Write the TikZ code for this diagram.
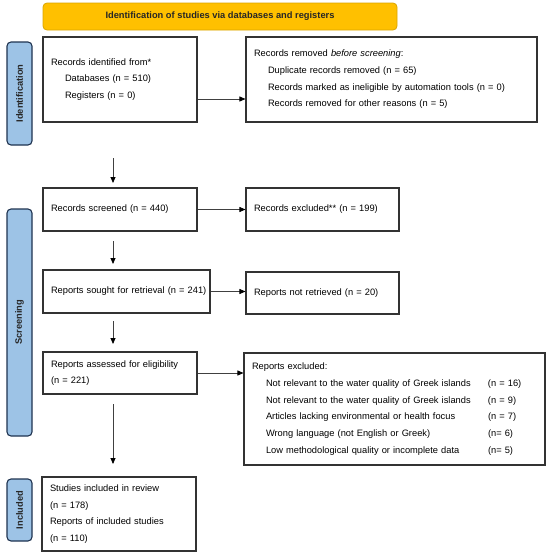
\documentclass[tikz,border=0pt]{standalone}
\usepackage{fontspec}
\setmainfont{Liberation Sans}
\usetikzlibrary{arrows.meta}
\definecolor{hdrfill}{HTML}{FFC000}
\definecolor{hdrdraw}{HTML}{D9A400}
\definecolor{sidefill}{HTML}{9DC3E6}
\definecolor{sidedraw}{HTML}{1F3350}
\definecolor{boxdraw}{HTML}{333333}
\begin{document}
\begin{tikzpicture}[x=1pt,y=-1pt,
  txt/.style={font=\fontsize{9.3}{16.7}\selectfont},
  box/.style={draw=boxdraw, line width=1.1pt, fill=white, align=left, inner xsep=8pt, inner ysep=0pt, txt},
  side/.style={draw=sidedraw, fill=sidefill, rounded corners=4pt, line width=1.1pt, rotate=90,
    font=\bfseries\fontsize{9.3}{11}\selectfont, text=black!85, inner sep=0pt, minimum height=25pt},
  hdr/.style={draw=hdrdraw, fill=hdrfill, rounded corners=4pt, line width=0.8pt,
    font=\bfseries\fontsize{9.3}{11}\selectfont, text=black!85, inner sep=0pt},
  arr/.style={draw=black!75, line width=0.8pt, -{Triangle[length=6pt,width=5pt,color=black,fill=black]}}]
\useasboundingbox (0,0) rectangle (550,555);

% header
\node[hdr, minimum width=354pt, minimum height=27pt] (header) at (220,16.5)
  {Identification of studies via databases and registers};

% side labels
\node[side, minimum width=103pt] (sideid) at (19.5,93.5) {Identification};
\node[side, minimum width=227pt] (sidescr) at (19.5,322.5) {Screening};
\node[side, minimum width=62pt] (sideinc) at (19.5,510) {Included};

% boxes
\node[box, text width=138pt, minimum width=154pt, minimum height=85pt] (ident) at (120,79.5)
  {Records identified from*\\
   \hspace*{14pt}Databases (n = 510)\\
   \hspace*{14pt}Registers (n = 0)};
\node[box, text width=275pt, minimum width=291pt, minimum height=85pt] (removed) at (391.5,79.5)
  {Records removed \textit{before screening}:\\
   \hspace*{14pt}Duplicate records removed (n = 65)\\
   \hspace*{14pt}Records marked as ineligible by automation tools (n = 0)\\
   \hspace*{14pt}Records removed for other reasons (n = 5)};
\node[box, text width=138pt, minimum width=154pt, minimum height=43pt] (screen) at (120,209.5)
  {Records screened (n = 440)};
\node[box, text width=137pt, minimum width=153pt, minimum height=43pt] (excl) at (322.5,209.5)
  {Records excluded** (n = 199)};
\node[box, text width=151pt, minimum width=167pt, minimum height=43pt] (sought) at (126.5,291.5)
  {\mbox{Reports sought for retrieval (n = 241)}};
\node[box, text width=137pt, minimum width=153pt, minimum height=42pt] (notret) at (322.5,293)
  {Reports not retrieved (n = 20)};
\node[box, text width=138pt, minimum width=154pt, minimum height=42pt] (assess) at (120,373)
  {Reports assessed for eligibility\\(n = 221)};
\node[box, text width=285pt, minimum width=301pt, minimum height=112pt] (repexcl) at (394.5,409)
  {Reports excluded:\\
   \hspace*{14pt}\makebox[222pt][l]{Not relevant to the water quality of Greek islands}(n = 16)\\
   \hspace*{14pt}\makebox[222pt][l]{Not relevant to the water quality of Greek islands}(n = 9)\\
   \hspace*{14pt}\makebox[222pt][l]{Articles lacking environmental or health focus}(n = 7)\\
   \hspace*{14pt}\makebox[222pt][l]{Wrong language (not English or Greek)}(n= 6)\\
   \hspace*{14pt}\makebox[222pt][l]{Low methodological quality or incomplete data}(n= 5)};
\node[box, text width=138pt, minimum width=154pt, minimum height=74pt] (incl) at (119,514)
  {Studies included in review\\(n = 178)\\Reports of included studies\\(n = 110)};

% free-ended down arrows
\coordinate (d1s) at (113,158); \coordinate (d1e) at (113,183);
\coordinate (d2s) at (113,241); \coordinate (d2e) at (113,264);
\coordinate (d3s) at (113,321); \coordinate (d3e) at (113,344);
\coordinate (d4s) at (113,404); \coordinate (d4e) at (113,464);
\draw[arr] (d1s) -- (d1e);
\draw[arr] (d2s) -- (d2e);
\draw[arr] (d3s) -- (d3e);
\draw[arr] (d4s) -- (d4e);

% horizontal arrows
\draw[arr] (ident.east |- 0,99) -- (removed.west |- 0,99);
\draw[arr] (screen.east) -- (excl.west);
\draw[arr] (sought.east) -- (sought.east -| notret.west);
\draw[arr] (assess.east) -- (assess.east -| repexcl.west);
\end{tikzpicture}
\end{document}
